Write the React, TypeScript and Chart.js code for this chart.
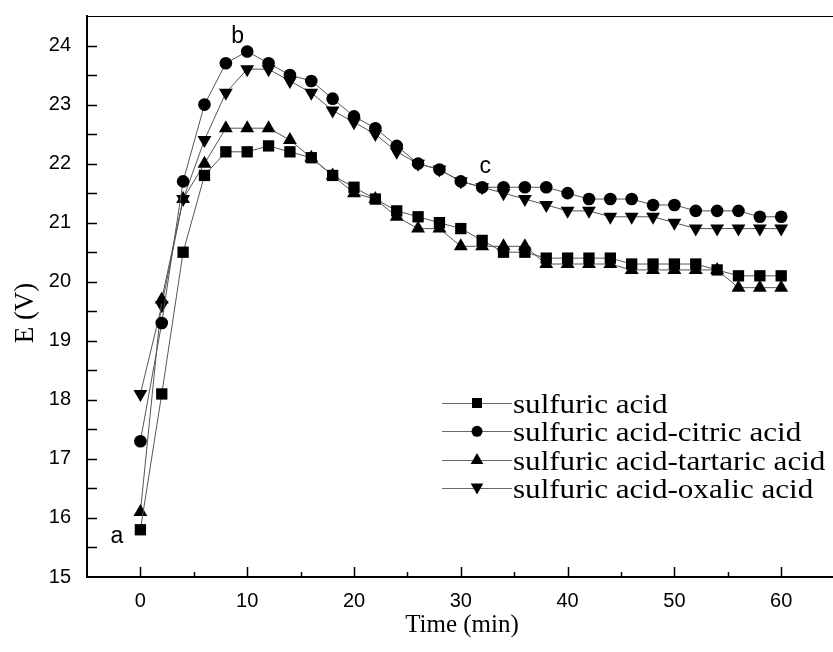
import React, { useEffect, useRef } from "react";
import { Chart, registerables } from "chart.js";

Chart.register(...registerables);

const times = [0, 2, 4, 6, 8, 10, 12, 14, 16, 18, 20, 22, 24, 26, 28, 30, 32, 34, 36, 38, 40, 42, 44, 46, 48, 50, 52, 54, 56, 58, 60];
const sulfuric = [15.8, 18.1, 20.5, 21.8, 22.2, 22.2, 22.3, 22.2, 22.1, 21.8, 21.6, 21.4, 21.2, 21.1, 21.0, 20.9, 20.7, 20.5, 20.5, 20.4, 20.4, 20.4, 20.4, 20.3, 20.3, 20.3, 20.3, 20.2, 20.1, 20.1, 20.1];
const citric = [17.3, 19.3, 21.7, 23.0, 23.7, 23.9, 23.7, 23.5, 23.4, 23.1, 22.8, 22.6, 22.3, 22.0, 21.9, 21.7, 21.6, 21.6, 21.6, 21.6, 21.5, 21.4, 21.4, 21.4, 21.3, 21.3, 21.2, 21.2, 21.2, 21.1, 21.1];
const tartaric = [16.1, 19.7, 21.4, 22.0, 22.6, 22.6, 22.6, 22.4, 22.1, 21.8, 21.5, 21.4, 21.1, 20.9, 20.9, 20.6, 20.6, 20.6, 20.6, 20.3, 20.3, 20.3, 20.3, 20.2, 20.2, 20.2, 20.2, 20.2, 19.9, 19.9, 19.9];
const oxalic = [18.1, 19.6, 21.4, 22.4, 23.2, 23.6, 23.6, 23.4, 23.2, 22.9, 22.7, 22.5, 22.2, 22.0, 21.9, 21.7, 21.6, 21.5, 21.4, 21.3, 21.2, 21.2, 21.1, 21.1, 21.1, 21.0, 20.9, 20.9, 20.9, 20.9, 20.9];

const seriesLabels = [
  "sulfuric acid",
  "sulfuric acid-citric acid",
  "sulfuric acid-tartaric acid",
  "sulfuric acid-oxalic acid",
];
const xTickValues = [0, 10, 20, 30, 40, 50, 60];
const yTickValues = [15, 16, 17, 18, 19, 20, 21, 22, 23, 24];
const xTitle = "Time (min)";
const yTitle = "E (V)";
const annotationTexts = ["a", "b", "c"];
const annotationX = [-2.2, 9.1, 32.3];
const annotationY = [15.58, 24.04, 21.84];

type Shape = "square" | "circle" | "up" | "down";
const shapes: Shape[] = ["square", "circle", "up", "down"];

function drawMarker(ctx: CanvasRenderingContext2D, shape: Shape, x: number, y: number, r: number) {
  ctx.beginPath();
  if (shape === "square") {
    ctx.rect(x - r, y - r, 2 * r, 2 * r);
  } else if (shape === "circle") {
    ctx.arc(x, y, r, 0, Math.PI * 2);
  } else if (shape === "up") {
    ctx.moveTo(x, y - r * 1.1);
    ctx.lineTo(x + r * 1.05, y + r * 0.75);
    ctx.lineTo(x - r * 1.05, y + r * 0.75);
    ctx.closePath();
  } else {
    ctx.moveTo(x, y + r * 1.1);
    ctx.lineTo(x + r * 1.05, y - r * 0.75);
    ctx.lineTo(x - r * 1.05, y - r * 0.75);
    ctx.closePath();
  }
  ctx.fill();
}

const decorPlugin = {
  id: "decor",
  afterDraw(chart: any) {
    const { ctx, chartArea, scales } = chart;
    const xs = scales.x;
    const ys = scales.y;
    ctx.save();
    ctx.strokeStyle = "#000";
    ctx.fillStyle = "#000";
    // top border
    ctx.lineWidth = 1.2;
    ctx.beginPath();
    ctx.moveTo(chartArea.left, chartArea.top + 0.5);
    ctx.lineTo(chartArea.right, chartArea.top + 0.5);
    ctx.stroke();
    // x ticks (inward)
    ctx.lineWidth = 1.5;
    for (let v = 0; v <= 60; v += 5) {
      const px = Math.round(xs.getPixelForValue(v)) + 0.5;
      const len = v % 10 === 0 ? 10 : 5;
      ctx.beginPath();
      ctx.moveTo(px, chartArea.bottom);
      ctx.lineTo(px, chartArea.bottom - len);
      ctx.stroke();
    }
    // y ticks (inward)
    for (let v = 15.5; v <= 24.01; v += 0.5) {
      const py = Math.round(ys.getPixelForValue(v)) + 0.5;
      ctx.beginPath();
      ctx.moveTo(chartArea.left, py);
      ctx.lineTo(chartArea.left + 10, py);
      ctx.stroke();
    }
    // titles
    ctx.font = '25px "Liberation Serif"';
    ctx.textAlign = "center";
    ctx.textBaseline = "alphabetic";
    ctx.fillText(xTitle, (chartArea.left + chartArea.right) / 2 + 2, 632);
    ctx.save();
    ctx.translate(33, 313);
    ctx.rotate(-Math.PI / 2);
    ctx.font = '27px "Liberation Serif"';
    ctx.fillText(yTitle, 0, 0);
    ctx.restore();
    // annotations
    ctx.font = '23px "Liberation Sans"';
    ctx.textAlign = "center";
    for (let i = 0; i < annotationTexts.length; i++) {
      ctx.fillText(annotationTexts[i], xs.getPixelForValue(annotationX[i]), ys.getPixelForValue(annotationY[i]));
    }
    // legend
    const lx0 = 442, lx1 = 512, ly0 = 403, dy = 28.3;
    ctx.font = '28px "Liberation Serif"';
    ctx.textAlign = "left";
    for (let i = 0; i < seriesLabels.length; i++) {
      const y = ly0 + i * dy;
      ctx.strokeStyle = "#666";
      ctx.lineWidth = 1;
      ctx.beginPath();
      ctx.moveTo(lx0, Math.round(y) + 0.5);
      ctx.lineTo(lx1, Math.round(y) + 0.5);
      ctx.stroke();
      ctx.fillStyle = "#000";
      drawMarker(ctx, shapes[i], (lx0 + lx1) / 2, y, shapes[i] === "square" ? 5 : shapes[i] === "circle" ? 5.5 : 6);
      ctx.save();
      ctx.translate(lx1 + 1, y + 10);
      ctx.scale(1.11, 1);
      ctx.fillText(seriesLabels[i], 0, 0);
      ctx.restore();
    }
    ctx.restore();
  },
};

export default function App() {
  const ref = useRef<HTMLCanvasElement | null>(null);
  useEffect(() => {
    if (!ref.current) return;
    const allSeries = [sulfuric, citric, tartaric, oxalic];
    const styles: any[] = [
      { pointStyle: "rect", pointRadius: 8, rotation: 0 },
      { pointStyle: "circle", pointRadius: 6.3, rotation: 0 },
      { pointStyle: "triangle", pointRadius: 8, rotation: 0 },
      { pointStyle: "triangle", pointRadius: 8, rotation: 180 },
    ];
    const chart = new Chart(ref.current, {
      type: "line",
      data: {
        datasets: allSeries.map((s, i) => ({
          label: seriesLabels[i],
          data: times.map((t, j) => ({ x: t, y: s[j] })),
          borderColor: "#555",
          borderWidth: 1,
          backgroundColor: "#000",
          pointBackgroundColor: "#000",
          pointBorderColor: "#000",
          pointBorderWidth: 0,
          pointStyle: styles[i].pointStyle,
          pointRadius: styles[i].pointRadius,
          pointRotation: styles[i].rotation,
          tension: 0,
          fill: false,
        })),
      },
      options: {
        animation: false,
        responsive: false,
        devicePixelRatio: 1,
        layout: { autoPadding: false, padding: { top: 16, right: 0, left: 0, bottom: 0 } },
        plugins: { legend: { display: false }, tooltip: { enabled: false } },
        scales: {
          x: {
            type: "linear",
            min: -5,
            max: 64.85,
            afterFit: (s: any) => { s.height = 75; s.paddingLeft = 0; s.paddingRight = 0; },
            afterBuildTicks: (s: any) => { s.ticks = xTickValues.map((v) => ({ value: v })); },
            grid: { display: false, drawTicks: false },
            border: { display: true, color: "#000", width: 2 },
            ticks: {
              autoSkip: false,
              maxRotation: 0,
              padding: 12,
              color: "#000",
              font: { family: "Liberation Sans", size: 20 },
            },
          },
          y: {
            type: "linear",
            min: 15,
            max: 24.5,
            afterFit: (s: any) => { s.width = 87; s.paddingTop = 0; s.paddingBottom = 0; },
            afterBuildTicks: (s: any) => { s.ticks = yTickValues.map((v) => ({ value: v })); },
            grid: { display: false, drawTicks: false },
            border: { display: true, color: "#000", width: 2 },
            ticks: {
              autoSkip: false,
              padding: 16,
              color: "#000",
              font: { family: "Liberation Sans", size: 20 },
            },
          },
        },
      },
      plugins: [decorPlugin],
    });
    return () => chart.destroy();
  }, []);
  return (
    <div style={{ position: "fixed", left: 0, top: 0, width: 833, height: 652, background: "#fff" }}>
      <canvas ref={ref} width={833} height={652} style={{ display: "block" }} />
    </div>
  );
}
